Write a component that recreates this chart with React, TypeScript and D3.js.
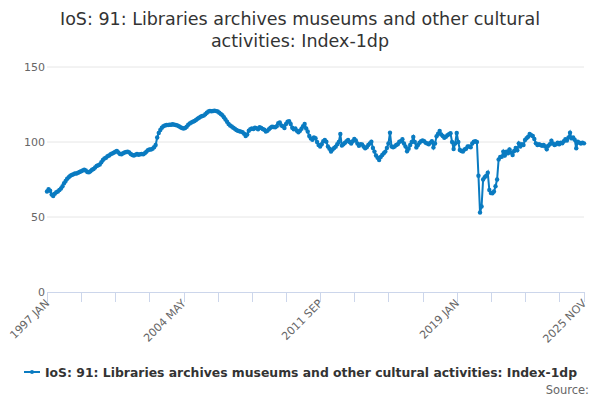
import React from "react";
import * as d3 from "d3";

const WIDTH = 600;
const HEIGHT = 400;

const titleLines = [
  "IoS: 91: Libraries archives museums and other cultural",
  "activities: Index-1dp",
];
const seriesName = "IoS: 91: Libraries archives museums and other cultural activities: Index-1dp";
const sourceText = "Source:";

const monthNames = ["JAN", "FEB", "MAR", "APR", "MAY", "JUN", "JUL", "AUG", "SEP", "OCT", "NOV", "DEC"];
const startYear = 1997;

// Monthly index values, 1997 JAN .. 2025 NOV
const v1997 = [67, 68.5, 67.5, 65, 64, 65.5, 66.5, 67, 68, 69, 70.5, 72.5];
const v1998 = [74, 75.5, 76.5, 77.5, 78, 78.5, 79, 79, 79.5, 80, 80.5, 81];
const v1999 = [81.5, 81, 80, 79.8, 80.5, 81.5, 82, 83, 84, 84.5, 85, 86.5];
const v2000 = [88, 89, 89.5, 90.5, 91, 91.8, 92.3, 92.8, 93.5, 94, 93, 92];
const v2001 = [91.8, 92.5, 93, 93.3, 93.6, 93, 92, 91.3, 91, 91.5, 92, 91.5];
const v2002 = [91.8, 92, 91.8, 92.5, 93.5, 94.5, 95, 95, 95.5, 96.5, 98, 103];
const v2003 = [106, 108, 109.5, 110.5, 111, 111.3, 111.3, 111.5, 111.5, 111.8, 111.5, 111.3];
const v2004 = [111, 110.5, 109.8, 109.3, 109, 109.3, 110.2, 111.5, 112.4, 113, 113.5, 114];
const v2005 = [114.7, 115.5, 116.2, 116.8, 117.3, 117.6, 118.5, 119.5, 120.3, 120.7, 120.5, 120.7];
const v2006 = [120.9, 120.6, 120.3, 119.5, 118.7, 117.8, 116.5, 115, 113.5, 112, 111, 110.3];
const v2007 = [109.5, 108.8, 108, 107.5, 107.2, 106.9, 106.5, 105.5, 104, 105, 107.5, 108.5];
const v2008 = [109, 108.7, 109.6, 109.2, 108.5, 109.8, 109.3, 108.7, 108.2, 107, 107.5, 108.5];
const v2009 = [109.5, 110.2, 110, 109.8, 110.5, 112.5, 113, 111, 110.5, 109.3, 112, 113.5];
const v2010 = [113.8, 112, 109.5, 108.5, 109, 107.5, 106.5, 107.5, 108.8, 110.5, 112, 109];
const v2011 = [107, 104, 102.4, 101.5, 103, 102.5, 100, 98, 97, 98.5, 100.5, 101.3];
const v2012 = [100.2, 97, 95.5, 93.6, 95, 96, 96.9, 98.5, 100, 105.3, 97.6, 98.5];
const v2013 = [99.5, 100.5, 101.3, 100, 99, 100.5, 102, 101, 99, 97.5, 98.5, 98.4];
const v2014 = [97, 95.8, 96.5, 98, 99, 100.2, 96, 93.6, 91, 89.5, 88, 90];
const v2015 = [91.3, 92.5, 93.6, 96, 99, 106.2, 97, 96.5, 97, 98, 98.5, 100.2];
const v2016 = [100.5, 101.8, 99, 97, 93.8, 95.5, 98, 100, 103.3, 100, 96.4, 98];
const v2017 = [99.5, 100.5, 101, 100.5, 99.5, 99, 98.5, 99.6, 100.5, 96.4, 99, 103.8];
const v2018 = [105.5, 107.3, 105, 104, 102.8, 103.5, 104.5, 105.2, 105.8, 100, 95.3, 99];
const v2019 = [106, 100, 94.7, 94, 93.6, 95, 95.5, 97, 97, 96.5, 99, 100.2];
const v2020 = [100.5, 100, 77.5, 53, 57, 75, 76.5, 77.5, 79.5, 68, 66, 65.8];
const v2021 = [67, 70.5, 75, 88.4, 90, 90.2, 93.6, 91, 93.5, 92.5, 95.1, 93];
const v2022 = [91.3, 94, 96, 94.5, 99.1, 97, 98.5, 98, 101.3, 102.5, 103.5, 105.3];
const v2023 = [104.5, 104, 102, 99.1, 98, 98.5, 98, 97.5, 98, 97, 95.1, 97.5];
const v2024 = [98.5, 100.9, 99, 98, 98.5, 99.5, 98.5, 99.5, 99.1, 100.5, 101.8, 101];
const v2025 = [103, 106.2, 102.4, 103, 101.5, 95.8, 100.2, 99.5, 99, 99.5, 99.1];

const yearly = [
  v1997, v1998, v1999, v2000, v2001, v2002, v2003, v2004, v2005, v2006,
  v2007, v2008, v2009, v2010, v2011, v2012, v2013, v2014, v2015, v2016,
  v2017, v2018, v2019, v2020, v2021, v2022, v2023, v2024, v2025,
];

const yTicks = [0, 50, 100, 150];
const xTickStep = 22;
const xLabelEvery = 4;

const values: number[] = yearly.flat();
const categories: string[] = [];
yearly.forEach((arr, yi) => arr.forEach((_, mi) => categories.push(`${startYear + yi} ${monthNames[mi]}`)));
const data = categories.map((c, i) => ({ c, v: values[i] }));

const COLOR = "#0a7bc1";
const FONT = "'DejaVu Sans', sans-serif";

export default function App() {
  const left = 47;
  const right = 584;
  const top = 67;
  const bottom = 292;

  const x = d3.scalePoint<string>().domain(categories).range([left, right]);
  const y = d3.scaleLinear().domain([0, 150]).range([bottom, top]);

  const line = d3
    .line<{ c: string; v: number }>()
    .x((d) => x(d.c) as number)
    .y((d) => y(d.v));

  const tickIdx: number[] = [];
  for (let i = 0; i < categories.length; i += xTickStep) tickIdx.push(i);
  if (tickIdx[tickIdx.length - 1] !== categories.length - 1) tickIdx.push(categories.length - 1);
  const labelIdx = tickIdx.filter((i, k) => k % xLabelEvery === 0 || i === categories.length - 1);

  return (
    <svg width={WIDTH} height={HEIGHT} style={{ position: "absolute", left: 0, top: 0, fontFamily: FONT }}>
      <rect width={WIDTH} height={HEIGHT} fill="#fff" />
      {titleLines.map((t, i) => (
        <text key={i} x={300} y={24.5 + i * 22} textAnchor="middle" fontSize={17.5} fill="#333">
          {t}
        </text>
      ))}
      {yTicks.filter((t) => t !== 0).map((t) => (
        <line key={t} x1={left} x2={right} y1={y(t)} y2={y(t)} stroke="#e6e6e6" strokeWidth={1} />
      ))}
      {yTicks.map((t) => (
        <text key={t} x={left - 2} y={y(t) + 4} textAnchor="end" fontSize={11} fill="#666">
          {t}
        </text>
      ))}
      <line x1={left} x2={right + 1} y1={bottom + 0.5} y2={bottom + 0.5} stroke="#ccd6eb" strokeWidth={1} />
      {tickIdx.map((i) => {
        const px = Math.round(x(categories[i]) as number) + 0.5;
        return <line key={i} x1={px} x2={px} y1={bottom} y2={bottom + 10} stroke="#ccd6eb" strokeWidth={1} />;
      })}
      {labelIdx.map((i) => {
        const px = x(categories[i]) as number;
        return (
          <text
            key={i}
            transform={`translate(${px + 3},${bottom + 12}) rotate(-45)`}
            textAnchor="end"
            fontSize={11}
            fill="#666"
          >
            {categories[i]}
          </text>
        );
      })}
      <path d={line(data) || ""} fill="none" stroke={COLOR} strokeWidth={2} />
      {data.map((d, i) => (
        <circle key={i} cx={x(d.c) as number} cy={y(d.v)} r={2.2} fill={COLOR} />
      ))}
      <g>
        <line x1={24} x2={40} y1={372} y2={372} stroke={COLOR} strokeWidth={2} />
        <circle cx={32} cy={372} r={2} fill={COLOR} />
        <text x={45} y={376.5} fontSize={12.4} fontWeight="bold" fill="#333">
          {seriesName}
        </text>
      </g>
      <text x={589} y={394} textAnchor="end" fontSize={11.5} fill="#666">
        {sourceText}
      </text>
    </svg>
  );
}
